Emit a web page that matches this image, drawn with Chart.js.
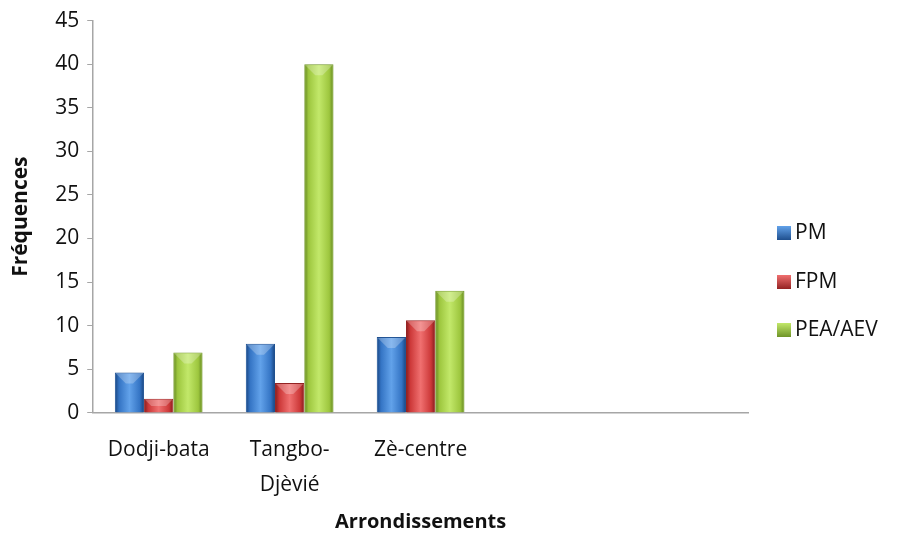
<!DOCTYPE html>
<html><head><meta charset="utf-8">
<script src="https://cdn.jsdelivr.net/npm/chart.js@4/dist/chart.umd.min.js"></script>
<style>html,body{margin:0;padding:0;background:#fff}#wrap{width:909px;height:534px}</style>
</head><body><div id="wrap"><canvas id="c"></canvas></div>
<script>
const categories = ['Dodji-bata', ['Tangbo-', 'Djèvié'], 'Zè-centre', '', ''];
const seriesNames = ['PM', 'FPM', 'PEA/AEV'];
const pm = [4.6, 7.9, 8.7, null, null];
const fpm = [1.6, 3.4, 10.6, null, null];
const peaAev = [6.9, 40, 14, null, null];
const yTicks = [0, 5, 10, 15, 20, 25, 30, 35, 40, 45];

const palette = [
  ['#62a2ea', '#3474c4', '#1f4f8e'],
  ['#f07070', '#cc3838', '#942323'],
  ['#c2e86a', '#9dc63e', '#6f9428']
];
const FONT = '"Open Sans", Lato, sans-serif';

// Shade each bar (positions come from the library's own bar elements)
const gradientPlugin = {
  id: 'barGradient',
  afterDatasetsDraw(chart) {
    const c = chart.ctx;
    c.save();
    chart.data.datasets.forEach((ds, i) => {
      const meta = chart.getDatasetMeta(i);
      meta.data.forEach((el, j) => {
        if (ds.data[j] == null) return;
        const p = el.getProps(['x', 'y', 'base', 'width'], true);
        const x0 = p.x - p.width / 2 + 1, x1 = p.x + p.width / 2 - 1;
        const top = Math.min(p.y, p.base) + 1, bot = Math.max(p.y, p.base);
        const g = c.createLinearGradient(x0, 0, x1, 0);
        g.addColorStop(0, palette[i][2]);
        g.addColorStop(0.12, palette[i][1]);
        g.addColorStop(0.5, palette[i][0]);
        g.addColorStop(0.88, palette[i][1]);
        g.addColorStop(1, palette[i][2]);
        c.fillStyle = g;
        c.fillRect(x0, top, x1 - x0, bot - top);
        const bh = Math.min(10, (bot - top) / 2);
        c.fillStyle = 'rgba(255,255,255,0.25)';
        c.beginPath();
        c.moveTo(x0, top);
        c.lineTo(x1, top);
        c.lineTo(x1 - bh, top + bh);
        c.lineTo(x0 + bh, top + bh);
        c.closePath();
        c.fill();
      });
    });
    c.restore();
  }
};

const legendPlugin = {
  id: 'sideLegend',
  afterDraw(chart) {
    const c = chart.ctx;
    c.save();
    c.font = '21px ' + FONT;
    c.textBaseline = 'middle';
    const ys = [233, 282, 330];
    chart.data.datasets.forEach((ds, i) => {
      const y = ys[i];
      const g = c.createLinearGradient(0, y - 7, 0, y + 7);
      g.addColorStop(0, palette[i][0]);
      g.addColorStop(1, palette[i][2]);
      c.fillStyle = g;
      c.fillRect(777, y - 7, 14, 14);
      c.fillStyle = '#111';
      c.fillText(ds.label, 795, y);
    });
    c.restore();
  }
};

new Chart(document.getElementById('c'), {
  type: 'bar',
  data: {
    labels: categories,
    datasets: [
      { label: seriesNames[0], data: pm, backgroundColor: palette[0][1], borderColor: palette[0][2] },
      { label: seriesNames[1], data: fpm, backgroundColor: palette[1][1], borderColor: palette[1][2] },
      { label: seriesNames[2], data: peaAev, backgroundColor: palette[2][1], borderColor: palette[2][2] }
    ]
  },
  options: {
    responsive: true,
    maintainAspectRatio: false,
    animation: false,
    devicePixelRatio: 1,
    layout: { padding: { top: 8, right: 161, left: 8, bottom: 0 } },
    plugins: { legend: { display: false }, tooltip: { enabled: false } },
    datasets: { bar: { categoryPercentage: 0.67, barPercentage: 1, borderWidth: 1 } },
    scales: {
      x: {
        afterFit(scale) { scale.height -= 12; },
        grid: { display: false, drawTicks: false },
        border: { display: true, color: '#a6a6a6', width: 1.5 },
        ticks: { color: '#111', font: { family: FONT, size: 21, lineHeight: 1.65 }, padding: 20, maxRotation: 0, autoSkip: false },
        title: { display: true, text: 'Arrondissements', color: '#111', font: { family: FONT, size: 20, weight: 'bold' }, padding: { top: 0, bottom: 0 } }
      },
      y: {
        min: 0, max: 45,
        afterBuildTicks(axis) { axis.ticks = yTicks.map(v => ({ value: v })); },
        grid: { display: true, drawOnChartArea: false, drawTicks: true, tickLength: 6, color: '#a6a6a6' },
        border: { display: true, color: '#a6a6a6', width: 1.5 },
        ticks: { color: '#111', font: { family: FONT, size: 21 }, padding: 8 },
        title: { display: true, text: 'Fréquences', color: '#111', font: { family: FONT, size: 21, weight: 'bold' }, padding: { top: 0, bottom: 14 } }
      }
    }
  },
  plugins: [gradientPlugin, legendPlugin]
});
</script>
</body></html>
